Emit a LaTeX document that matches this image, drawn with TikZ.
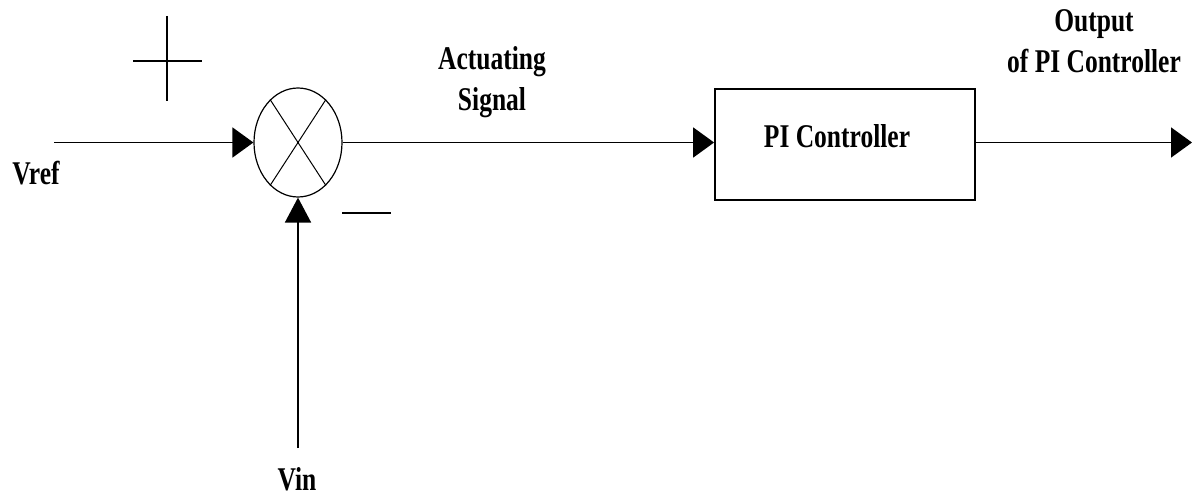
\documentclass[tikz,border=0pt]{standalone}
\usepackage{fontspec}
\setmainfont{Liberation Serif}
\usetikzlibrary{arrows.meta,shapes.geometric}
\newcommand{\tallbf}[1]{\scalebox{1}[1.3]{\bfseries\fontsize{25.5}{31}\selectfont #1}}
\begin{document}
\begin{tikzpicture}[x=1pt,y=-1pt,
  sig/.style={line width=1.8pt,-{Triangle[length=21pt,width=30pt]}},
  lbl/.style={inner sep=0pt,anchor=base}]
\useasboundingbox (0,0) rectangle (1195,495);
\node[draw,ellipse,line width=1.2pt,inner sep=0pt,minimum width=88pt,minimum height=109pt] (sum) at (298,142.5) {};
\draw[line width=1pt] (sum.123) -- (sum.303) (sum.57) -- (sum.237);
\node[draw,line width=1.8pt,inner sep=0pt,minimum width=260pt,minimum height=111pt] (pi) at (845,144.5) {};
\node[lbl] (pitext) at (837,147) {\tallbf{PI Controller}};
\coordinate (vrefin) at (54,142.5);
\coordinate (vinend) at (298,448);
\coordinate (out) at (1192,142.5);
\draw[sig] (vrefin) -- (sum.west);
\draw[sig,-{Triangle[length=25pt,width=26pt]}] (vinend) -- (sum.south);
\draw[sig] (sum.east) -- (sum.east -| pi.west);
\draw[sig] (pi.east |- out) -- (out);
\draw[line width=1.8pt] (133,61) -- (202,61) (167,16) -- (167,101);
\draw[line width=1.8pt] (342,213) -- (391,213);
\node[lbl] (vref) at (36,184) {\tallbf{Vref}};
\node[lbl] (vin) at (297,490) {\tallbf{Vin}};
\node[lbl] (act) at (492,70) {\tallbf{\begin{tabular}[t]{@{}c@{}}Actuating\\Signal\end{tabular}}};
\node[lbl] (outlbl) at (1094,32) {\tallbf{\begin{tabular}[t]{@{}c@{}}Output\\of PI Controller\end{tabular}}};
\end{tikzpicture}
\end{document}
